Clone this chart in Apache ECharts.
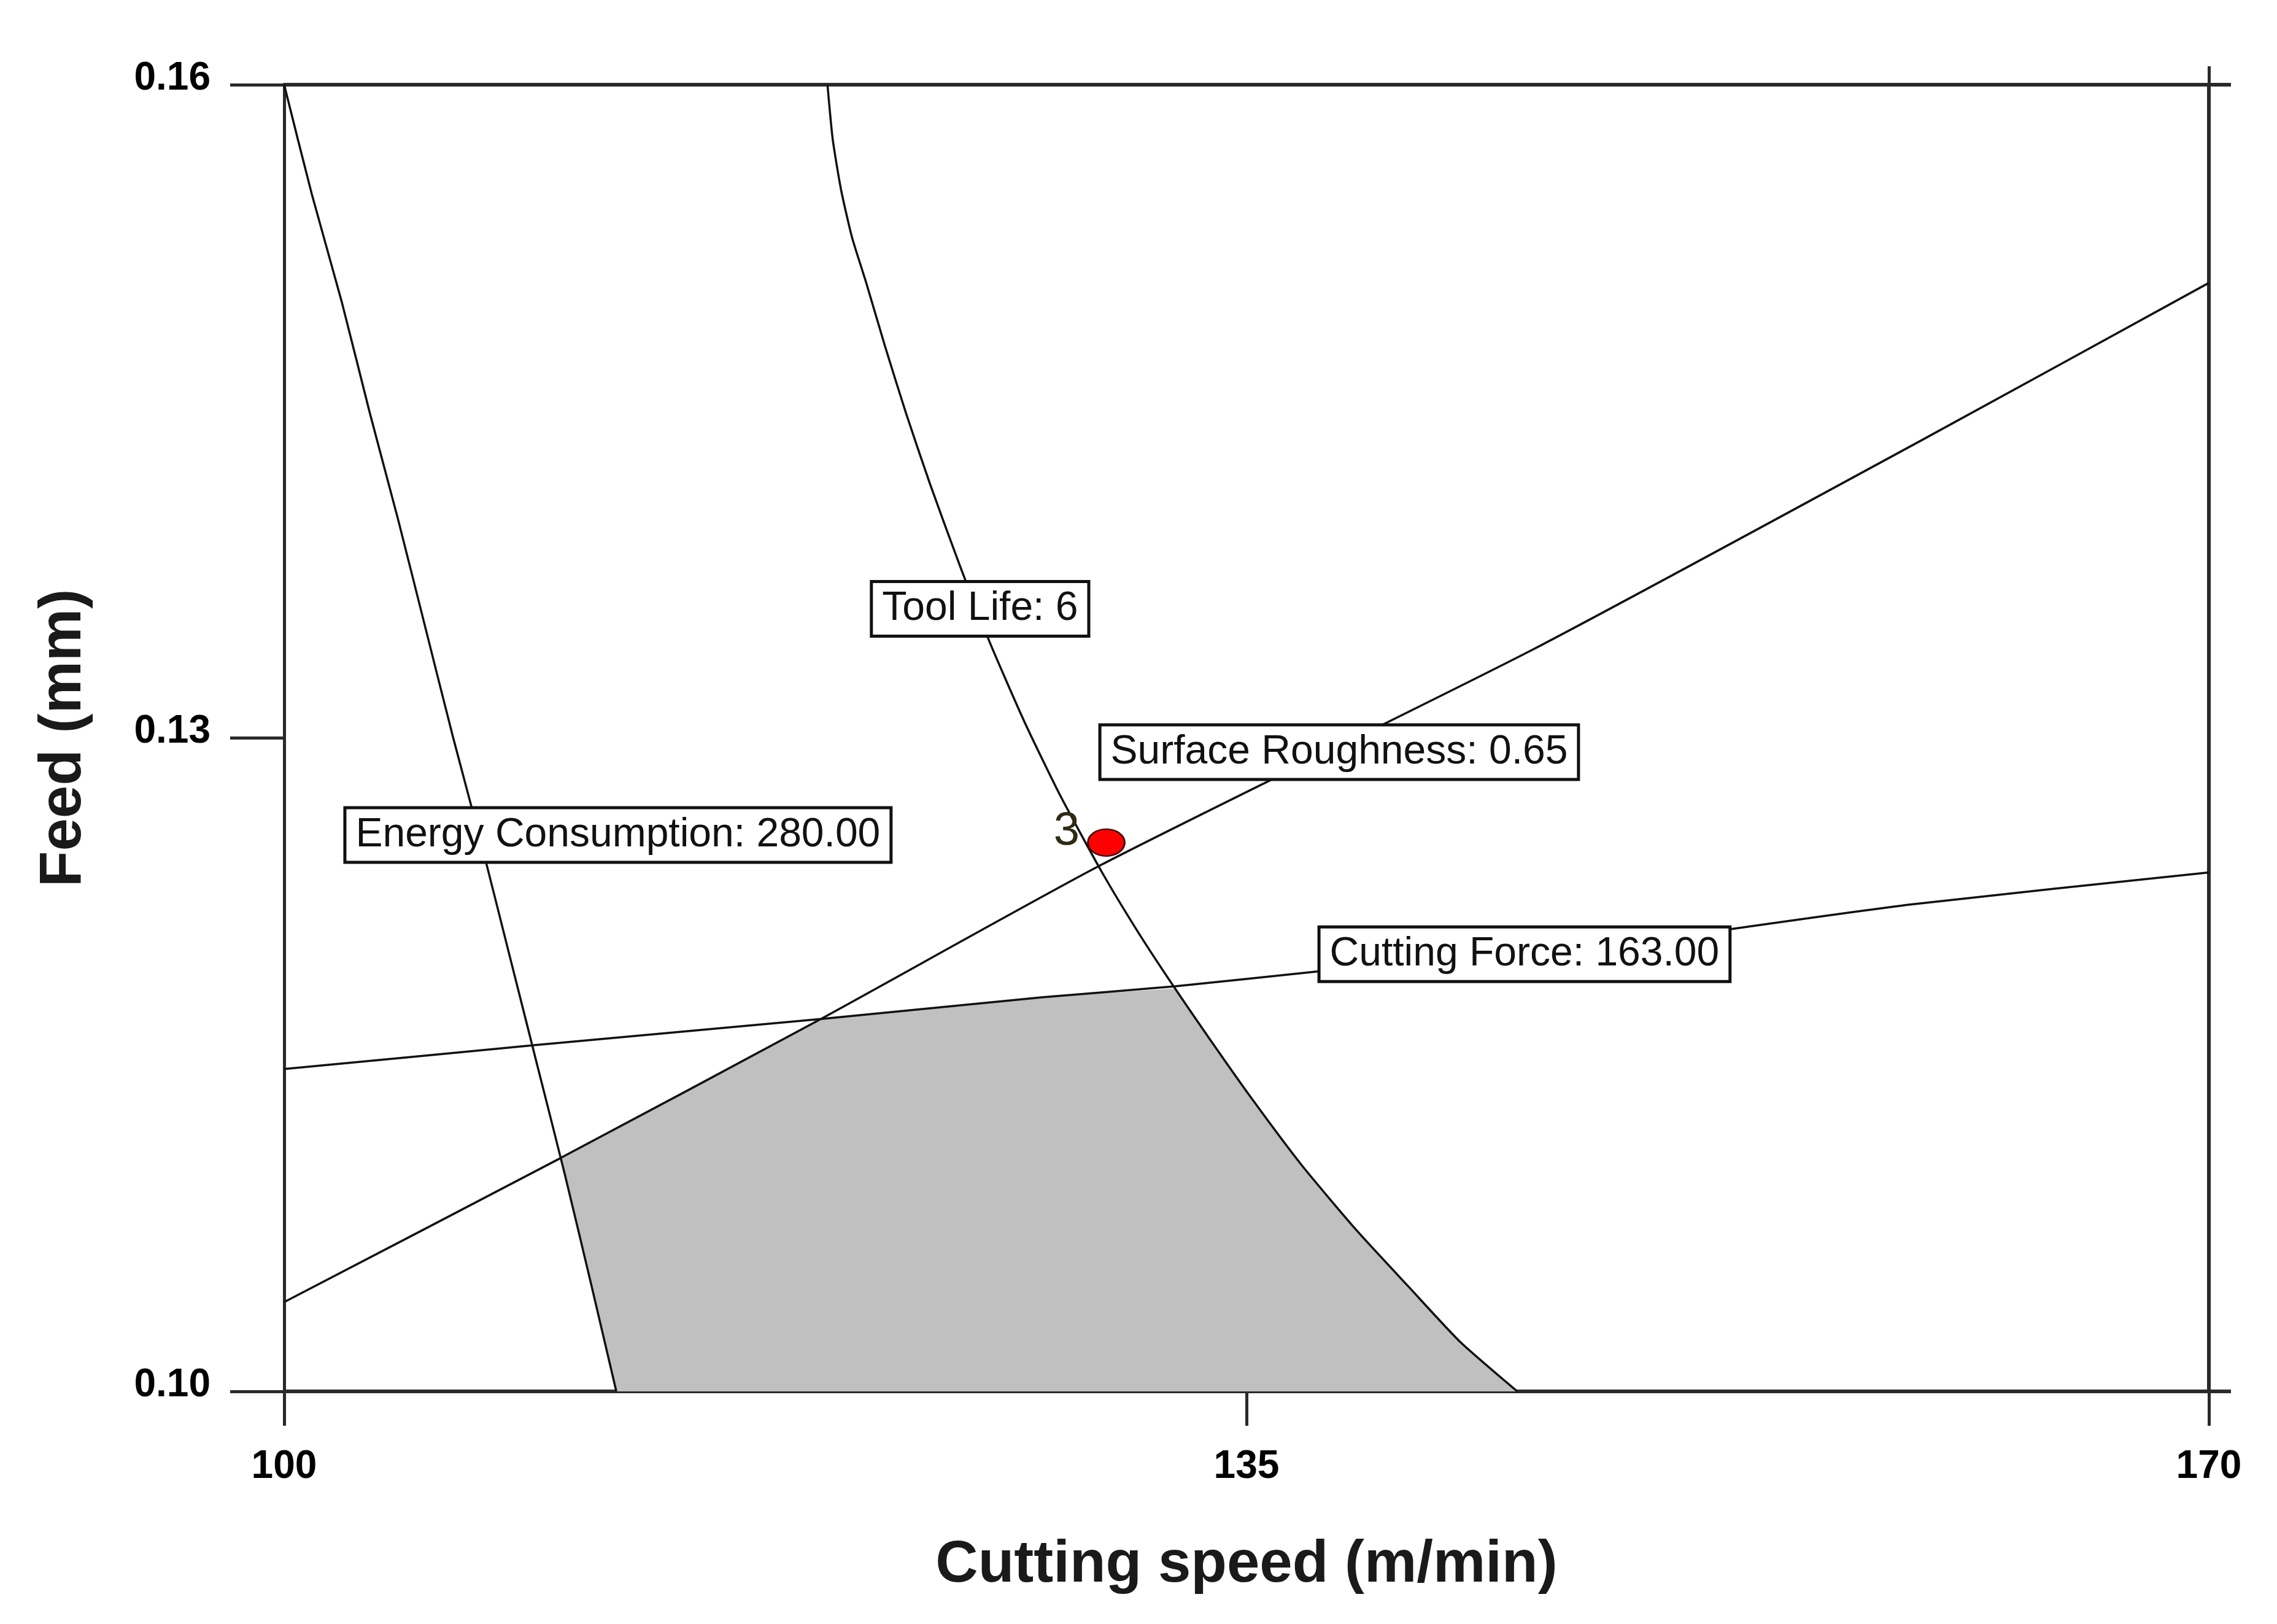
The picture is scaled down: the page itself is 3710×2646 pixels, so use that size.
<!DOCTYPE html>
<html><head><meta charset="utf-8">
<script src="https://cdn.jsdelivr.net/npm/echarts@6/dist/echarts.min.js"></script>
<style>html,body{margin:0;padding:0;background:#fff}#c{width:3710px;height:2646px}</style>
</head><body><div id="c"></div>
<script>
// ---- data ----
const xTicks = [100, 135, 170];
const yTicks = [0.10, 0.13, 0.16];
const xTitle = 'Cutting speed (m/min)';
const yTitle = 'Feed (mm)';

const energyCurve = [[100,0.16],[101.0,0.155],[102.1,0.15],[103.1,0.145],[104.15,0.14],[105.15,0.135],[106.15,0.13],[107.2,0.125],[108.2,0.12],[109.2,0.115],[110.2,0.11],[111.15,0.105],[112.08,0.10]];
const toolLifeCurve = [[119.76,0.16],[119.95,0.1575],[120.25,0.1552],[120.65,0.1530],[121.17,0.1509],[121.85,0.1480],[122.62,0.1449],[123.48,0.1417],[124.55,0.1380],[125.66,0.1344],[126.94,0.1307],[128.25,0.1273],[129.76,0.1238],[131.1,0.1210],[132.40,0.1185],[133.65,0.1162],[135.16,0.1135],[137.0,0.1104],[139.0,0.1074],[140.9,0.1048],[142.75,0.1023],[144.85,0.10]];
const roughnessCurve = [[100,0.1041],[110.03,0.1107],[119.52,0.1171],[129.75,0.1242],[145.47,0.1341],[159.59,0.1437],[170,0.1509]];
const forceCurve = [[100,0.1148],[109.13,0.1159],[119.52,0.1171],[127.6,0.1181],[132.4,0.1186],[137.7,0.1193],[151.6,0.1210],[152.3,0.12117],[159.24,0.12237],[170,0.12383]];
const feasibleRegion = [[112.08,0.10],[111.15,0.105],[110.2,0.11],[110.03,0.1107],[115.0,0.1140],[119.52,0.1171],[127.6,0.1181],[132.4,0.1185],[133.65,0.1162],[135.16,0.1135],[137.0,0.1104],[139.0,0.1074],[140.9,0.1048],[142.75,0.1023],[144.85,0.10]];
const optimumPoint = [129.9, 0.1252];
const optimumText = '3';
const labelTexts = ['Tool Life: 6', 'Energy Consumption: 280.00', 'Surface Roughness: 0.65', 'Cutting Force: 163.00'];
const labelAnchors = [[125.31,0.13593],[112.14,0.12555],[138.37,0.12935],[145.11,0.12007]];

// ---- chart ----
const chart = echarts.init(document.getElementById('c'), null, {renderer:'canvas'});
const axisColor = '#2a2a2a';
const tickFont = "'Liberation Sans', Arial, sans-serif";
const curveStyle = {color:'#111', width:3.5};
function curve(d){ return {type:'line', data:d, showSymbol:false, symbol:'none', smooth:0.2, lineStyle:curveStyle, z:3, silent:true, animation:false}; }

chart.setOption({
  animation:false,
  backgroundColor:'#fff',
  grid:{left:463, right:111, top:138, bottom:379, containLabel:false},
  xAxis:[{
    type:'value', position:'bottom', min:xTicks[0], max:xTicks[2], interval:xTicks[1]-xTicks[0],
    axisLine:{show:true, onZero:false, lineStyle:{color:axisColor, width:6}},
    axisTick:{show:true, length:56, lineStyle:{color:axisColor, width:5}},
    axisLabel:{margin:91, fontSize:64, fontWeight:'bold', fontFamily:tickFont, color:'#000'},
    splitLine:{show:false},
    name:xTitle, nameLocation:'middle', nameGap:236,
    nameTextStyle:{fontSize:96, fontWeight:'bold', fontFamily:'Liberation Sans, Arial, sans-serif', color:'#1a1a1a', lineHeight:96}
  },{
    type:'value', position:'top', min:xTicks[0], max:xTicks[2], interval:xTicks[2]-xTicks[0],
    axisLine:{show:true, onZero:false, lineStyle:{color:axisColor, width:6}},
    axisTick:{show:true, length:30, customValues:[xTicks[2]], lineStyle:{color:axisColor, width:5}},
    axisLabel:{show:false}, splitLine:{show:false}
  }],
  yAxis:[{
    type:'value', position:'left', min:yTicks[0], max:yTicks[2], interval:yTicks[1]-yTicks[0],
    axisLine:{show:true, onZero:false, lineStyle:{color:axisColor, width:5}},
    axisTick:{show:true, length:88, lineStyle:{color:axisColor, width:5}},
    axisLabel:{margin:120, fontSize:64, fontWeight:'bold', fontFamily:tickFont, color:'#000',
      formatter:v=>v.toFixed(2), verticalAlign:'bottom', lineHeight:20},
    splitLine:{show:false},
    name:yTitle, nameLocation:'middle', nameGap:310, nameRotate:90,
    nameTextStyle:{fontSize:96, fontWeight:'bold', fontFamily:'Liberation Sans, Arial, sans-serif', color:'#1a1a1a', lineHeight:96}
  },{
    type:'value', position:'right', min:yTicks[0], max:yTicks[2], interval:yTicks[2]-yTicks[0],
    axisLine:{show:true, onZero:false, lineStyle:{color:axisColor, width:6}},
    axisTick:{show:true, length:36, lineStyle:{color:axisColor, width:6}},
    axisLabel:{show:false}, splitLine:{show:false}
  }],
  series:[
    {type:'custom', silent:true, z:1, data:[feasibleRegion[0]],
      renderItem:(params, api)=>{
        const pts = feasibleRegion.map(p=>api.coord(p));
        return {type:'polygon', shape:{points:pts}, style:{fill:'#c0c0c0', stroke:null}};
      }},
    curve(energyCurve), curve(toolLifeCurve), curve(roughnessCurve), curve(forceCurve),
    {type:'scatter', z:6, silent:true, data:[optimumPoint], symbol:'circle', symbolSize:[60,44],
      itemStyle:{color:'#ff0000', borderColor:'#3a1010', borderWidth:2.5, opacity:1},
      label:{show:true, formatter:optimumText, position:'left', distance:12, offset:[0,-18],
        fontSize:76, fontFamily:'Liberation Sans, Arial, sans-serif', color:'#2e2a14'}},
    {type:'scatter', z:8, silent:true, symbolSize:1, itemStyle:{color:'rgba(0,0,0,0)', opacity:1},
      data:labelTexts.map((t,i)=>({name:t, value:labelAnchors[i]})),
      label:{show:true, position:'inside', formatter:p=>p.name, fontSize:66, lineHeight:70,
        fontFamily:'Liberation Sans, Arial, sans-serif', color:'#111',
        backgroundColor:'#fff', borderColor:'#111', borderWidth:5, padding:[7,15]}}
  ]
});
</script></body></html>
